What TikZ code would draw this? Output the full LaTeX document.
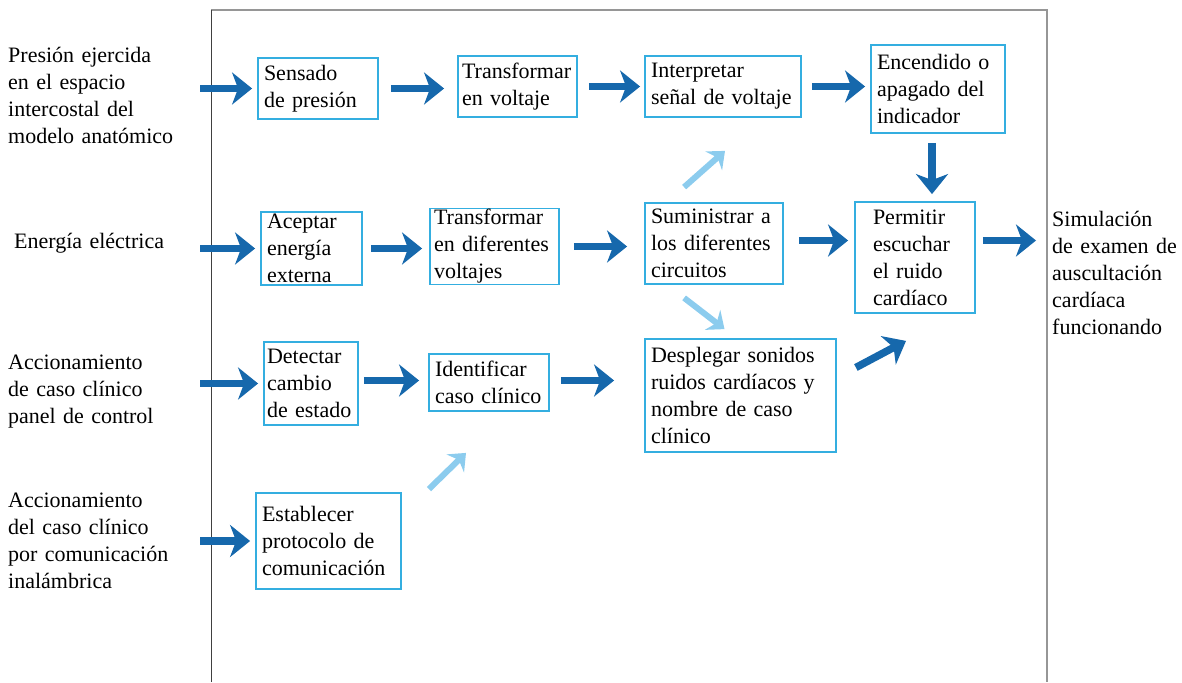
\documentclass[tikz,border=0pt]{standalone}
\usepackage{fontspec}
\setmainfont{Liberation Serif}
\usetikzlibrary{arrows.meta}
\definecolor{flowblue}{RGB}{22,104,172}
\definecolor{powerblue}{RGB}{140,204,238}
\definecolor{boxcyan}{RGB}{52,174,224}
\definecolor{framegray}{RGB}{150,150,150}

\begin{document}
\begin{tikzpicture}[x=1pt, y=-1pt,
    every node/.style={font=\fontsize{22}{27}\selectfont},
    block/.style={draw=boxcyan, line width=1.8pt, align=left, inner xsep=6pt, inner ysep=1pt},
    lbl/.style={anchor=west, align=left, inner sep=0pt, text width=180pt},
    flow/.style={draw=flowblue, line width=7.5pt, -{Stealth[length=20pt,width=32pt,inset=6pt]}},
    power/.style={draw=powerblue, line width=6pt, -{Stealth[length=15pt,width=25pt,inset=5pt]}}]

    \useasboundingbox (0,0) rectangle (1182,682);
    % marco
    \draw[framegray, line width=1.2pt] (211,10) -- (1047,10) -- (1047,682);
    \draw[black!75, line width=0.8pt] (211,10) -- (211,682);

    % entradas y salida
    \node[lbl] (in1) at (8,95) {Presión ejercida\\en el espacio\\intercostal del\\modelo anatómico};
    \node[lbl, text width=174pt] (in2) at (14,243) {Energía eléctrica};
    \node[lbl] (in3) at (8,392) {Accionamiento\\de caso clínico\\panel de control};
    \node[lbl] (in4) at (8,541) {Accionamiento\\del caso clínico\\por comunicación\\inalámbrica};
    \node[lbl, text width=130pt] (out) at (1052,273) {Simulación\\de examen de\\auscultación\\cardíaca\\funcionando};

    % funciones
    \node[block, text width=108pt, minimum height=61pt] (sens) at (318,88.5) {Sensado\\de presión};
    \node[block, inner xsep=4pt, text width=111pt, minimum height=61pt] (trans) at (517.5,86.5) {Transformar\\en voltaje};
    \node[block, text width=144pt, minimum height=61pt] (interp) at (723,86.5) {Interpretar\\señal de voltaje};
    \node[block, text width=122pt, minimum height=88pt] (enc) at (938,89) {Encendido o\\apagado del\\indicador};

    \node[block, text width=89pt, minimum height=73pt] (acep) at (311.5,248.5) {Aceptar\\energía\\externa};
    \node[block, inner xsep=4pt, text width=121pt, minimum height=75pt] (trans2) at (494.5,246.5) {Transformar\\en diferentes\\voltajes};
    \node[block, text width=126pt, minimum height=81pt] (sum) at (714,243.5) {Suministrar a\\los diferentes\\circuitos};
    \node[block, inner xsep=18pt, text width=84pt, minimum height=111pt] (perm) at (915,257.5) {Permitir\\escuchar\\el ruido\\cardíaco};

    \node[block, inner xsep=3pt, text width=88pt, minimum height=83pt] (det) at (311,383.5) {Detectar\\cambio\\de~estado};
    \node[block, text width=108pt, minimum height=57pt] (ident) at (489,382.5) {Identificar\\caso clínico};
    \node[block, text width=179pt, minimum height=113pt] (desp) at (740.5,395.5) {Desplegar sonidos\\ruidos cardíacos y\\nombre de caso\\clínico};

    \node[block, text width=133pt, minimum height=96pt] (est) at (328.5,541) {Establecer\\protocolo de\\comunicación};

    % flujos
    \draw[flow, shorten <=12pt, shorten >=5pt] (in1.east |- sens.west) -- (sens.west);
    \draw[flow, shorten <=12pt, shorten >=13pt] (sens.east) -- (sens.east -| trans.west);
    \draw[flow, shorten <=11pt, shorten >=4pt] (trans.east) -- (trans.east -| interp.west);
    \draw[flow, shorten <=10pt, shorten >=5pt] (interp.east) -- (interp.east -| enc.west);
    \draw[flow, shorten <=9pt, shorten >=7pt] ([xshift=-6pt]enc.south) -- ([xshift=-6pt]enc.south |- perm.north);

    \draw[flow, shorten <=12pt, shorten >=5pt] (in2.east |- acep.west) -- (acep.west);
    \draw[flow, shorten <=8pt, shorten >=7pt] (acep.east) -- (acep.east -| trans2.west);
    \draw[flow, shorten <=14pt, shorten >=17pt] (trans2.east) -- (trans2.east -| sum.west);
    \draw[flow, shorten <=15pt, shorten >=6pt] ([yshift=3pt]sum.east) -- ([yshift=3pt]sum.east -| perm.west);
    \draw[flow, shorten <=7pt, shorten >=16pt] ([yshift=17pt]perm.east) -- ([yshift=17pt]perm.east -| out.west);

    \draw[flow, shorten <=12pt, shorten >=5pt] (in3.east |- det.west) -- (det.west);
    \draw[flow, shorten <=5pt, shorten >=9pt] ([yshift=3pt]det.east) -- ([yshift=3pt]det.east -| ident.west);
    \draw[flow, shorten <=11pt, shorten >=30pt] ([yshift=2pt]ident.east) -- ([yshift=2pt]ident.east -| desp.west);
    \draw[flow] ([xshift=19pt, yshift=28pt]desp.east) -- ([xshift=-9pt, yshift=-27pt]perm.south);

    \draw[flow, shorten <=12pt, shorten >=5pt] (in4.east |- est.west) -- (est.west);

    % alimentacion y enlace
    \draw[power] ([xshift=40pt, yshift=15pt]sum.north west) -- ([xshift=2pt, yshift=-33pt]interp.south);
    \draw[power] ([xshift=40pt, yshift=-13pt]sum.south west) -- ([xshift=-16pt, yshift=9pt]desp.north);
    \draw[power] ([xshift=27pt, yshift=3pt]est.north east) -- ([xshift=-23pt, yshift=-41pt]ident.south);

\end{tikzpicture}
\end{document}
